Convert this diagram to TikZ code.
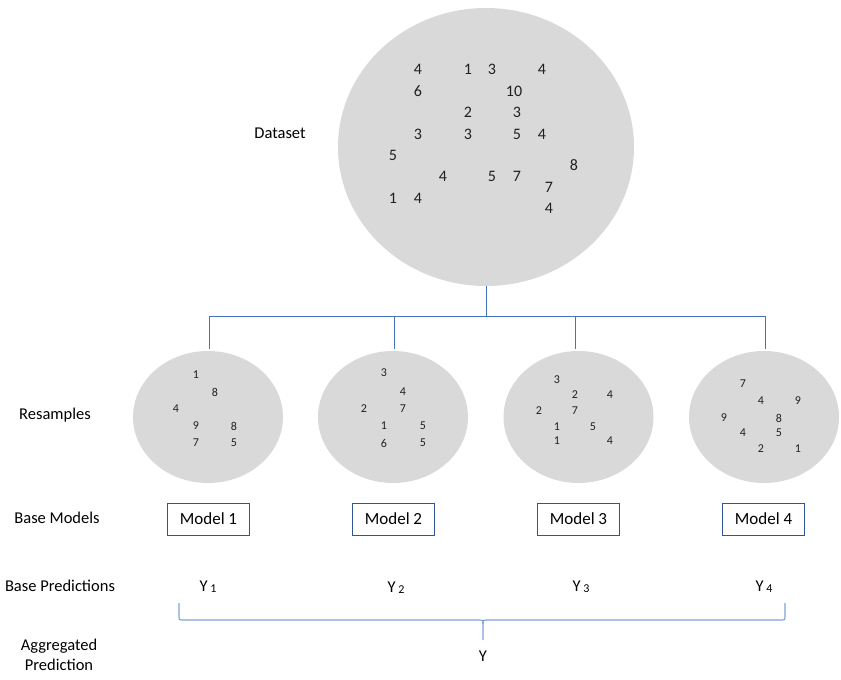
\documentclass[tikz,border=0pt]{standalone}
\usepackage{fontspec}
\setmainfont{Carlito}
\usetikzlibrary{shapes.geometric}
\definecolor{linkblue}{HTML}{4472C4}
\definecolor{bracecol}{HTML}{7F9FD8}
\definecolor{boxblue}{HTML}{2F5597}
\definecolor{blobgray}{HTML}{D9D9D9}
\definecolor{txt}{HTML}{202020}
\tikzset{
  blob/.style={ellipse, fill=blobgray, draw=none, inner sep=0pt},
  big/.style={font=\fontsize{16}{16}\selectfont, text=txt, inner sep=0pt},
  small/.style={font=\fontsize{12}{12}\selectfont, text=txt, inner sep=0pt},
  lbl/.style={font=\fontsize{16.5}{20}\selectfont, text=black, inner sep=0pt, align=center},
  modelbox/.style={draw=boxblue, line width=0.9pt, minimum width=82pt, minimum height=32pt, font=\fontsize{17}{17}\selectfont, text=black},
  link/.style={draw=linkblue, line width=0.9pt},
  bracelink/.style={draw=bracecol, line width=1.1pt},
}
\newcommand{\ysub}[1]{Y\,\raisebox{-1pt}{\fontsize{12}{12}\selectfont #1}}
\begin{document}
\begin{tikzpicture}[x=1pt,y=-1pt]
\useasboundingbox (0,0) rectangle (841,680);
% dataset
\node[blob, minimum width=296pt, minimum height=278pt] (ds) at (486,147) {};
\foreach \t/\x/\y [count=\i] in {4/418/69,1/468/69,3/492/69,4/542/69,6/418/91,10/514/91,2/468/112,3/517/112,3/418/134,3/468/134,5/517/134,4/542/134,5/393/155,8/574/165,4/443/176,5/492/176,7/517/176,7/549/187,1/393/198,4/418/198,4/549/208}
  \node[big] (d\i) at (\x,\y) {\t};
\node[lbl] (ldataset) at (280,133) {Dataset};
% resamples
\node[blob, minimum width=150pt, minimum height=132pt] (r1) at (208,417) {};
\node[blob, minimum width=150pt, minimum height=132pt] (r2) at (393,417) {};
\node[blob, minimum width=150pt, minimum height=132pt] (r3) at (578.5,417) {};
\node[blob, minimum width=150pt, minimum height=132pt] (r4) at (764,417) {};
\foreach \t/\x/\y [count=\i] in {1/196/375,8/215/392,4/176/409,9/196/426,8/234/426,7/196/443,5/234/443}
  \node[small] (sa\i) at (\x,\y) {\t};
\foreach \t/\x/\y [count=\i] in {3/384/373,4/403/392,2/364/409,7/403/409,1/384/426,5/423/426,6/384/443,5/423/443}
  \node[small] (sb\i) at (\x,\y) {\t};
\foreach \t/\x/\y [count=\i] in {3/557/380,2/575/395,4/610/395,2/539/411,7/575/411,1/557/427,5/593/427,1/557/441,4/610/441}
  \node[small] (sc\i) at (\x,\y) {\t};
\foreach \t/\x/\y [count=\i] in {7/743/384,4/761/401,9/798/401,9/724/418,8/779/418,4/743/433,5/779/433,2/761/449,1/798/449}
  \node[small] (sd\i) at (\x,\y) {\t};
\node[lbl] (lres) at (55,415) {Resamples};
% tree connectors
\coordinate (j0) at (486,316);
\coordinate (j1) at (209,316);
\coordinate (j2) at (394,316);
\coordinate (j3) at (575,316);
\coordinate (j4) at (765,316);
\draw[link] (ds.south) -- (j0);
\draw[link] (j1) -- (j4);
\draw[link] (j1) -- ([yshift=2pt]j1 |- r1.north);
\draw[link] (j2) -- ([yshift=2pt]j2 |- r2.north);
\draw[link] (j3) -- ([yshift=2pt]j3 |- r3.north);
\draw[link] (j4) -- ([yshift=2pt]j4 |- r4.north);
% models
\node[lbl] (lbase) at (57,518) {Base Models};
\node[modelbox] (m1) at (208.5,519) {Model 1};
\node[modelbox] (m2) at (393.5,519) {Model 2};
\node[modelbox] (m3) at (578.5,519) {Model 3};
\node[modelbox] (m4) at (763.5,519) {Model 4};
% predictions
\node[lbl] (lpred) at (60,586) {Base Predictions};
\node[lbl] (y1) at (208,587) {\ysub{1}};
\node[lbl] (y2) at (396,588) {\ysub{2}};
\node[lbl] (y3) at (581,587) {\ysub{3}};
\node[lbl] (y4) at (764,587) {\ysub{4}};
% brace
\coordinate (bl) at (179,603);
\coordinate (br) at (785,603);
\coordinate (bt) at (483,640);
\draw[bracelink] (bl) -- (179,617) .. controls (179,620) .. (182,620) -- (480,620)
  .. controls (483,620) .. (483,624) -- (bt);
\draw[bracelink] (br) -- (785,617) .. controls (785,620) .. (782,620) -- (486,620)
  .. controls (483,620) .. (483,624);
\node[lbl] (lagg) at (59,655) {Aggregated\\Prediction};
\node[lbl] (yagg) at (483,656) {Y};
\end{tikzpicture}
\end{document}
